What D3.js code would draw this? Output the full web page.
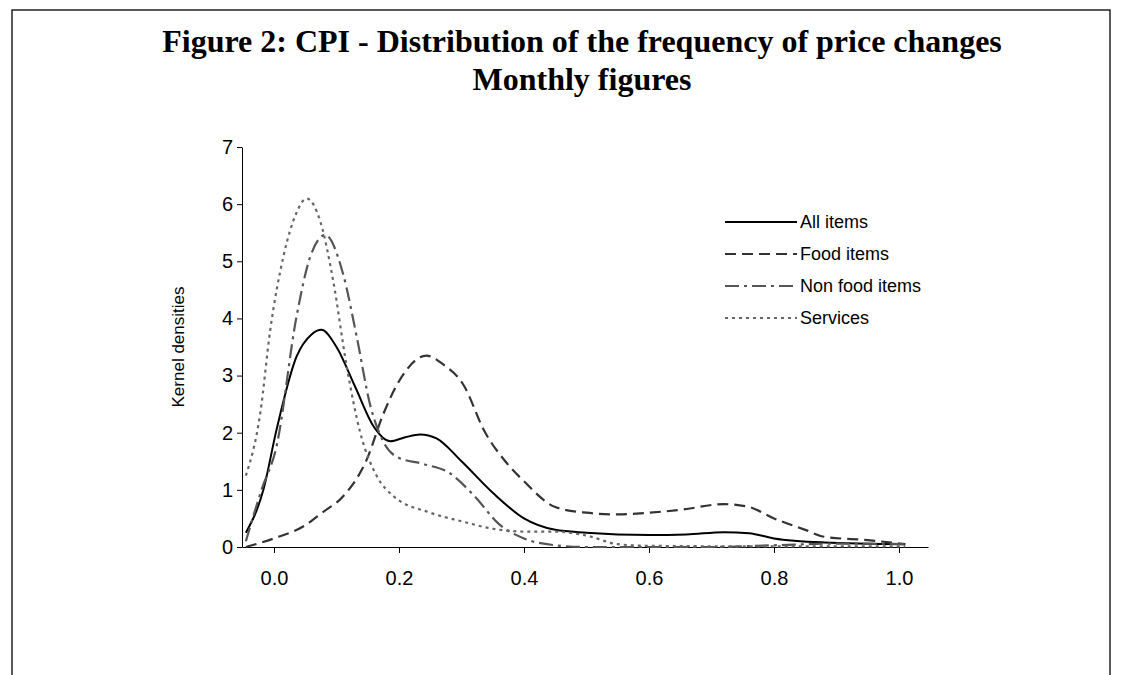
<!DOCTYPE html>
<html>
<head>
<meta charset="utf-8">
<script src="https://cdn.jsdelivr.net/npm/d3@7"></script>
<style>
body { margin: 0; background: #fff; }
</style>
</head>
<body>
<svg id="chart" width="1125" height="675"></svg>
<script>
// values: [frequency, density]
var allItems = [[-0.045,0.25],[-0.017,1.0],[0.004,2.05],[0.036,3.33],[0.06,3.72],[0.076,3.8],[0.1,3.5],[0.13,2.8],[0.16,2.1],[0.186,1.85],[0.21,1.92],[0.234,1.97],[0.26,1.9],[0.3,1.5],[0.35,0.95],[0.4,0.5],[0.45,0.3],[0.5,0.25],[0.6,0.21],[0.66,0.22],[0.72,0.26],[0.76,0.24],[0.8,0.15],[0.88,0.08],[1.01,0.05]];
var foodItems = [[-0.045,0.0],[0.0,0.15],[0.05,0.38],[0.077,0.6],[0.11,0.88],[0.148,1.52],[0.175,2.33],[0.2,2.9],[0.244,3.35],[0.27,3.2],[0.303,2.84],[0.337,2.02],[0.37,1.5],[0.4,1.15],[0.45,0.7],[0.5,0.6],[0.55,0.57],[0.6,0.6],[0.65,0.65],[0.72,0.75],[0.76,0.7],[0.8,0.5],[0.85,0.3],[0.88,0.18],[0.95,0.12],[1.01,0.05]];
var nonFoodItems = [[-0.045,0.1],[-0.02,1.0],[0.004,1.76],[0.036,4.03],[0.058,5.08],[0.082,5.46],[0.11,4.8],[0.132,3.7],[0.154,2.48],[0.175,1.84],[0.196,1.58],[0.24,1.45],[0.28,1.3],[0.32,0.9],[0.36,0.4],[0.4,0.15],[0.45,0.03],[0.5,0.0],[0.7,0.0],[0.8,0.03],[0.9,0.06],[1.01,0.05]];
var services = [[-0.045,1.25],[-0.022,2.34],[-0.006,3.8],[0.015,5.08],[0.036,5.85],[0.052,6.1],[0.074,5.7],[0.095,4.64],[0.116,3.18],[0.138,2.0],[0.164,1.25],[0.19,0.9],[0.25,0.6],[0.3,0.45],[0.35,0.32],[0.4,0.27],[0.45,0.27],[0.5,0.2],[0.55,0.05],[0.6,0.02],[0.8,0.01],[1.01,0.01]];

var seriesNames = ["All items", "Food items", "Non food items", "Services"];
var seriesData = [allItems, foodItems, nonFoodItems, services];
var seriesColors = ["#000", "#333", "#555", "#666"];
var seriesDash = [null, "11,6", "14,5,3,5", "3,4"];
var xTicks = [0, 0.2, 0.4, 0.6, 0.8, 1.0];

var svg = d3.select("#chart");

// frame
svg.append("rect").attr("x", 12).attr("y", 10).attr("width", 1098).attr("height", 700)
  .attr("fill", "none").attr("stroke", "#000").attr("stroke-width", 1.3);

var serif = "Liberation Serif, Times New Roman, serif";
svg.append("text").attr("x", 582).attr("y", 52).attr("text-anchor", "middle")
  .style("font-family", serif).style("font-weight", "bold")
  .style("font-size", "32px").text("Figure 2: CPI - Distribution of the frequency of price changes");
svg.append("text").attr("x", 582).attr("y", 90).attr("text-anchor", "middle")
  .style("font-family", serif).style("font-weight", "bold")
  .style("font-size", "32px").text("Monthly figures");

var x = d3.scaleLinear().domain([0, 1]).range([274, 899]);
var y = d3.scaleLinear().domain([0, 7]).range([547, 147]);
var x0 = x.invert(242), x1 = x.invert(928);

var font = "Liberation Sans, Arial, sans-serif";

// axes
var yAxis = svg.append("g").attr("transform", "translate(242,0)")
  .call(d3.axisLeft(y).ticks(7).tickSize(5).tickSizeOuter(0).tickFormat(d3.format("d")));
yAxis.select(".domain").attr("stroke", "#000");
yAxis.selectAll("text").style("font-family", font).style("font-size", "20px").attr("fill", "#000").attr("x", -9);

var xAxis = svg.append("g").attr("transform", "translate(0,547)")
  .call(d3.axisBottom(x.copy().domain([x0, x1]).range([242, 928])).tickValues(xTicks)
    .tickSize(6).tickSizeOuter(0).tickFormat(d3.format(".1f")));
xAxis.select(".domain").attr("stroke", "#000");
xAxis.selectAll("text").style("font-family", font).style("font-size", "20px").attr("fill", "#000").attr("y", 24);

svg.append("text").attr("transform", "translate(184,347) rotate(-90)").attr("text-anchor", "middle")
  .style("font-family", font).style("font-size", "17px").text("Kernel densities");

var line = d3.line().x(d => x(d[0])).y(d => y(d[1])).curve(d3.curveMonotoneX);

seriesData.forEach(function(s, i) {
  svg.append("path").datum(s).attr("d", line).attr("fill", "none")
    .attr("stroke", seriesColors[i]).attr("stroke-width", i == 0 ? 2 : 2.2)
    .attr("stroke-dasharray", seriesDash[i]);
});

// legend
seriesNames.forEach(function(n, i) {
  var ly = 222 + i * 32;
  svg.append("line").attr("x1", 725).attr("x2", 797).attr("y1", ly).attr("y2", ly)
    .attr("stroke", seriesColors[i]).attr("stroke-width", 2).attr("stroke-dasharray", seriesDash[i]);
  svg.append("text").attr("x", 800).attr("y", ly + 6).style("font-family", font)
    .style("font-size", "18px").text(n);
});
</script>
</body>
</html>
